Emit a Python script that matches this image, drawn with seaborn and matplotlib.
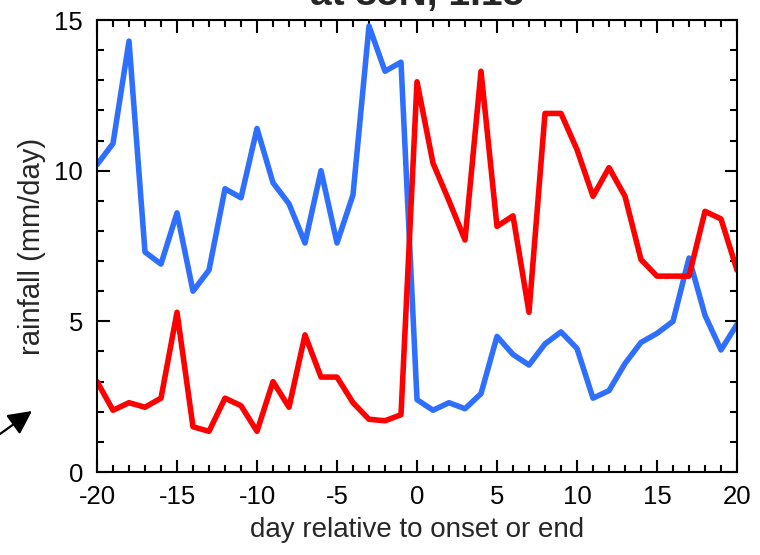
import numpy as np
import pandas as pd
import matplotlib
matplotlib.use("Agg")
import matplotlib.pyplot as plt
import seaborn as sns
from matplotlib.ticker import MultipleLocator

# days relative to onset / end
days = list(range(-20, 21))

# blue series (rainfall around onset)
blue_vals = [10.2, 10.9, 14.3, 7.3, 6.9, 8.6, 6.0, 6.7, 9.4, 9.1,
             11.4, 9.6, 8.9, 7.6, 10.0, 7.6, 9.2, 14.8, 13.3, 13.6,
             2.4, 2.05, 2.3, 2.1, 2.6, 4.5, 3.9, 3.55, 4.25, 4.65,
             4.1, 2.45, 2.7, 3.6, 4.3, 4.6, 5.0, 7.1, 5.2, 4.05, 4.9]

# red series (rainfall around end)
red_vals = [3.0, 2.05, 2.3, 2.15, 2.45, 5.3, 1.5, 1.35, 2.45, 2.2,
            1.35, 3.0, 2.15, 4.55, 3.15, 3.15, 2.3, 1.75, 1.7, 1.9,
            12.95, 10.25, 9.0, 7.7, 13.3, 8.15, 8.5, 5.3, 11.9, 11.9,
            10.7, 9.15, 10.1, 9.15, 7.05, 6.5, 6.5, 6.5, 8.65, 8.4, 6.7]

title_text = "at 85N, 1.15"
xlabel = "day relative to onset or end"
ylabel = "rainfall (mm/day)"

sns.set_style("ticks")
plt.rcParams['font.family'] = ['Liberation Sans', 'DejaVu Sans']
plt.rcParams['axes.unicode_minus'] = False

df = pd.DataFrame({"day": days, "blue": blue_vals, "red": red_vals})

fig = plt.figure(figsize=(7.6, 5.55), dpi=100)
ax = fig.add_axes([97 / 760, 1 - 472 / 555, 640 / 760, 452 / 555])

sns.lineplot(data=df, x="day", y="blue", color="#2f6fff", linewidth=4, ax=ax)
sns.lineplot(data=df, x="day", y="red", color="#ff0000", linewidth=4, ax=ax)

ax.set_xlim(-20, 20)
ax.set_ylim(0, 15)
ax.xaxis.set_major_locator(MultipleLocator(5))
ax.xaxis.set_minor_locator(MultipleLocator(1))
ax.yaxis.set_major_locator(MultipleLocator(5))
ax.yaxis.set_minor_locator(MultipleLocator(1))
ax.tick_params(which="both", direction="in", top=True, right=True, colors="black", width=1.5)
ax.tick_params(which="major", length=9, labelsize=18.5)
ax.tick_params(axis="y", which="major", pad=10)
ax.tick_params(axis="x", which="major", pad=9)
ax.tick_params(which="minor", length=5)
for s in ax.spines.values():
    s.set_linewidth(1.5)
    s.set_color("black")

ax.set_xlabel(xlabel, fontsize=20, labelpad=6)
ax.set_ylabel(ylabel, fontsize=21, labelpad=6)

# title sits mostly above the top edge, as in the source image
fig.text(417 / 760, 1 - 5 / 555, title_text, fontsize=28, fontweight="bold",
         ha="center", va="baseline")

# arrow outside the axes, lower left
ax.annotate("", xy=(32 / 760, 1 - 411 / 555), xycoords="figure fraction",
            xytext=(0, 1 - 434 / 555), textcoords="figure fraction",
            arrowprops=dict(arrowstyle="-|>,head_length=0.9,head_width=0.45",
                            mutation_scale=16, color="black", lw=1.6,
                            shrinkA=0, shrinkB=0),
            annotation_clip=False)

fig.savefig("out.png", dpi=100)
